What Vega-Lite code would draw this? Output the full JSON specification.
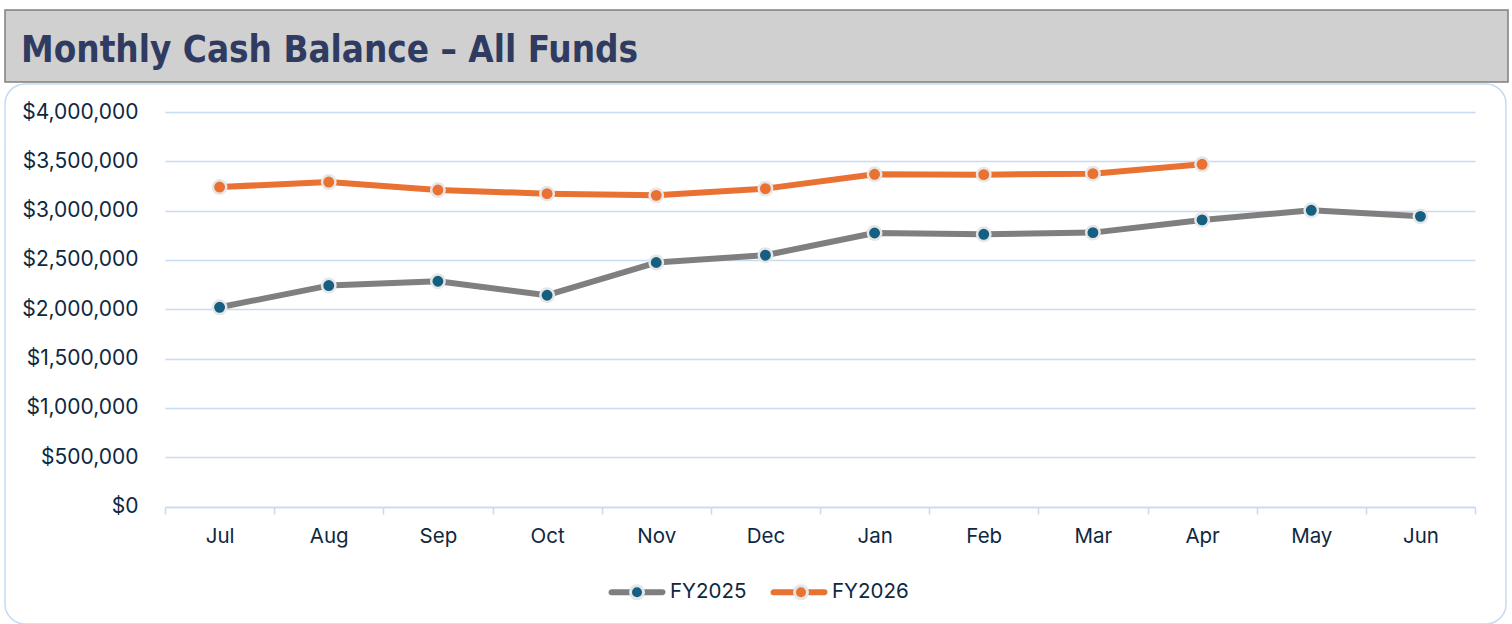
{
  "$schema": "https://vega.github.io/schema/vega-lite/v6.json",
  "padding": {"left": 4, "top": 9, "right": 0, "bottom": 0},
  "background": "white",
  "spacing": 0,
  "vconcat": [
    {
      "width": 1503,
      "height": 72,
      "view": {"fill": "#d0d0d0", "stroke": "#7f7f7f", "strokeWidth": 1.5},
      "title": {
        "text": "Monthly Cash Balance – All Funds",
        "anchor": "start",
        "orient": "top",
        "baseline": "alphabetic",
        "offset": -88,
        "dx": 16,
        "font": "Liberation Sans Narrow, DejaVu Sans Condensed, Roboto, sans-serif",
        "fontSize": 36.5,
        "fontWeight": "bold",
        "color": "#2f3b60"
      },
      "data": {"values": [{"t": ""}]},
      "mark": {"type": "text", "text": ""}
    },
    {
      "width": 1501,
      "height": 540,
      "view": {"fill": "white", "stroke": "#c6dbf1", "strokeWidth": 1.5, "cornerRadius": 20},
      "data": {
        "values": [
          {"month": "Jul", "fy": "FY2025", "value": 2020000},
          {"month": "Aug", "fy": "FY2025", "value": 2240000},
          {"month": "Sep", "fy": "FY2025", "value": 2284000},
          {"month": "Oct", "fy": "FY2025", "value": 2142000},
          {"month": "Nov", "fy": "FY2025", "value": 2474000},
          {"month": "Dec", "fy": "FY2025", "value": 2548000},
          {"month": "Jan", "fy": "FY2025", "value": 2773000},
          {"month": "Feb", "fy": "FY2025", "value": 2760000},
          {"month": "Mar", "fy": "FY2025", "value": 2777000},
          {"month": "Apr", "fy": "FY2025", "value": 2906000},
          {"month": "May", "fy": "FY2025", "value": 3003000},
          {"month": "Jun", "fy": "FY2025", "value": 2942000},
          {"month": "Jul", "fy": "FY2026", "value": 3239000},
          {"month": "Aug", "fy": "FY2026", "value": 3290000},
          {"month": "Sep", "fy": "FY2026", "value": 3209000},
          {"month": "Oct", "fy": "FY2026", "value": 3172000},
          {"month": "Nov", "fy": "FY2026", "value": 3155000},
          {"month": "Dec", "fy": "FY2026", "value": 3223000},
          {"month": "Jan", "fy": "FY2026", "value": 3368000},
          {"month": "Feb", "fy": "FY2026", "value": 3365000},
          {"month": "Mar", "fy": "FY2026", "value": 3375000},
          {"month": "Apr", "fy": "FY2026", "value": 3470000}
        ]
      },
      "encoding": {
        "x": {
          "field": "month",
          "type": "ordinal",
          "sort": ["Jul", "Aug", "Sep", "Oct", "Nov", "Dec", "Jan", "Feb", "Mar", "Apr", "May", "Jun"],
          "scale": {"type": "band", "range": [160, 1470], "paddingInner": 0, "paddingOuter": 0},
          "axis": {
            "title": null,
            "orient": "bottom",
            "offset": -117,
            "labelAngle": 0,
            "domainColor": "#c6dbf1",
            "domainWidth": 1.5,
            "tickColor": "#c6dbf1",
            "tickWidth": 1.5,
            "tickSize": 7,
            "tickBand": "extent",
            "labelPadding": 12,
            "labelFont": "Inter, DejaVu Sans, sans-serif",
            "labelFontSize": 20.5,
            "labelColor": "#0e2841",
            "grid": false
          }
        },
        "y": {
          "field": "value",
          "type": "quantitative",
          "scale": {"domain": [0, 4000000], "range": [422.5, 28], "nice": false, "zero": true},
          "axis": {
            "title": null,
            "orient": "left",
            "offset": -160,
            "values": [0, 500000, 1000000, 1500000, 2000000, 2500000, 3000000, 3500000, 4000000],
            "format": "$,.0f",
            "domain": false,
            "ticks": false,
            "labelPadding": 27,
            "labelFont": "Inter, DejaVu Sans, sans-serif",
            "labelFontSize": 21,
            "labelColor": "#0e2841",
            "grid": true,
            "gridColor": "#c6dbf1",
            "gridWidth": 1.5
          }
        }
      },
      "layer": [
        {
          "mark": {"type": "line", "strokeWidth": 6, "strokeCap": "round", "strokeJoin": "round"},
          "encoding": {
            "color": {
              "field": "fy",
              "type": "nominal",
              "scale": {"domain": ["FY2025", "FY2026"], "range": ["#7f7f7f", "#e97132"]},
              "legend": {
                "orient": "none",
                "legendX": 603,
                "legendY": 553,
                "direction": "horizontal",
                "title": null,
                "symbolType": "M-0.927,-0.0545L0.927,-0.0545A0.0545,0.0545,0,0,1,0.927,0.0545L-0.927,0.0545A0.0545,0.0545,0,0,1,-0.927,-0.0545Z",
                "symbolSize": 3025,
                "symbolStrokeWidth": 3,
                "labelOffset": 4,
                "columnPadding": 19,
                "labelFont": "Inter, DejaVu Sans, sans-serif",
                "labelFontSize": 20.5,
                "labelColor": "#0e2841"
              }
            }
          }
        },
        {
          "mark": {"type": "point", "shape": "circle", "filled": true, "size": 180, "stroke": "#e6e6e6", "strokeWidth": 2.5, "opacity": 1},
          "encoding": {
            "fill": {
              "field": "fy",
              "type": "nominal",
              "scale": {"range": ["#156082", "#e97132"]},
              "legend": {
                "orient": "none",
                "legendX": 603,
                "legendY": 553,
                "direction": "horizontal",
                "title": null,
                "symbolType": "M-0.236,0A0.236,0.236,0,1,0,0.236,0A0.236,0.236,0,1,0,-0.236,0Z",
                "symbolSize": 3025,
                "symbolStrokeWidth": 3,
                "symbolStrokeColor": "#e6e6e6",
                "symbolOpacity": 1,
                "labelOffset": 4,
                "columnPadding": 102,
                "labelExpr": "''",
                "labelFont": "Inter, DejaVu Sans, sans-serif",
                "labelFontSize": 20.5,
                "labelColor": "#0e2841"
              }
            }
          }
        }
      ]
    }
  ]
}
